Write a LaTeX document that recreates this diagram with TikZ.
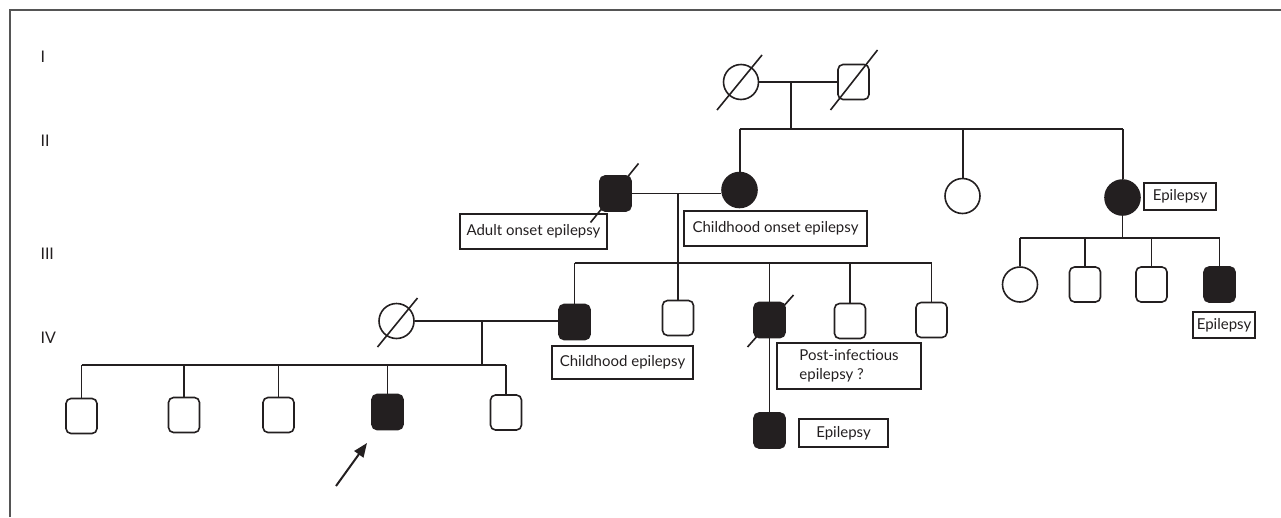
\documentclass[tikz,border=0pt]{standalone}
\usepackage{fontspec}
\setmainfont{Lato}
\usetikzlibrary{arrows.meta}
\definecolor{ink}{RGB}{35,31,32}
\definecolor{framec}{RGB}{85,85,85}
\tikzset{
  ind/.style={draw=ink, line width=1.6pt, inner sep=0pt},
  male/.style={ind, rectangle, rounded corners=5pt, minimum width=31pt, minimum height=35pt},
  female/.style={ind, circle, minimum size=35pt},
  aff/.style={fill=ink},
  link/.style={draw=ink, line width=1.3pt},
  sib/.style={draw=ink, line width=2pt},
  lbl/.style={draw=ink, line width=1.2pt, rectangle, inner sep=0pt, font=\fontsize{15}{18}\selectfont, text=ink},
  gen/.style={anchor=west, font=\fontsize{16}{18}\selectfont, text=ink},
  dead/.style={draw=ink, line width=1.6pt},
}
\begin{document}
\begin{tikzpicture}[x=1pt,y=-1pt]
\useasboundingbox (0,0) rectangle (1281,517);
\draw[framec, line width=1.5pt] (10,517) -- (10,10) -- (1281,10);

% generation labels
\node[gen] (gI) at (37,57) {I};
\node[gen] (gII) at (37,141) {II};
\node[gen] (gIII) at (37,254) {III};
\node[gen] (gIV) at (37,338) {IV};

% Generation I
\node[female] (I1) at (741,82) {};
\node[male] (I2) at (853.5,82) {};
\draw[dead, shift={(I1.center)}] (-24,28) -- (21,-27);
\draw[dead, shift={(I2.center)}] (-23,28) -- (24,-32);
\draw[link] (I1.east) -- (I2.west);
\coordinate (m1) at (791,82);
\coordinate (s1) at (791,129);
\draw[link] (m1) -- (s1);

% Generation II
\node[male, aff] (II1) at (615.5,193.5) {};
\draw[dead, shift={(II1.center)}] (-25,29) -- (23,-30);
\node[female, aff] (II2) at (739.5,190) {};
\node[female] (II3) at (962.5,196) {};
\node[female, aff] (II4) at (1122.5,197.5) {};
\coordinate (s1a) at (739.5,129);
\coordinate (s1b) at (1122.5,129);
\draw[sib] (s1a) -- (s1b);
\draw[sib] (s1a) -- (II2.north);
\draw[sib] (II3.north |- s1a) -- (II3.north);
\draw[sib] (s1b) -- (II4.north);
\draw[link] (II1.east) -- (II1.east -| II2.west);
\coordinate (m2) at (678,193.5);
\coordinate (s2) at (678,263);

\node[lbl, minimum width=147pt, minimum height=35pt] (L1) at (533.5,231.5) {Adult onset epilepsy};
\node[lbl, minimum width=183pt, minimum height=35pt] (L2) at (775.5,228.5) {Childhood onset epilepsy};
\node[lbl, minimum width=72pt, minimum height=27pt] (L3) at (1180,196.5) {Epilepsy};

% Generation III (right family)
\node[female] (III6) at (1020,284.5) {};
\node[male] (III7) at (1085,284.5) {};
\node[male] (III8) at (1151.5,284.5) {};
\node[male, aff] (III9) at (1219.5,284.5) {};
\coordinate (s3a) at (1020,238);
\coordinate (s3b) at (1219.5,238);
\draw[link] (II4.south) -- (II4.south |- s3a);
\draw[link] (s3a) -- (s3b);
\draw[link] (s3a) -- (III6.north);
\draw[link] (III7.north |- s3a) -- (III7.north);
\draw[link] (III8.north |- s3a) -- (III8.north);
\draw[link] (s3b) -- (III9.north);
\node[lbl, minimum width=62pt, minimum height=26pt] (L4) at (1224,325) {Epilepsy};

% Generation III (central family)
\node[male, aff] (III1) at (574.5,322) {};
\node[male] (III2) at (678,318) {};
\node[male, aff] (III3) at (769.5,320) {};
\draw[dead, shift={(III3.center)}] (-22,27) -- (24,-25);
\node[male] (III4) at (850,321) {};
\node[male] (III5) at (931.5,320) {};
\coordinate (s2a) at (574.5,263);
\coordinate (s2b) at (931.5,263);
\draw[link] (m2) -- (s2);
\draw[link] (s2a) -- (s2b);
\draw[link] (s2a) -- (III1.north);
\draw[link] (s2) -- (III2.north);
\draw[link] (III3.north |- s2a) -- (III3.north);
\draw[link] (III4.north |- s2a) -- (III4.north);
\draw[link] (s2b) -- (III5.north);

\node[female] (IIIs) at (396.5,321) {};
\draw[dead, shift={(IIIs.center)}] (-19,26) -- (21,-23);
\draw[link] (IIIs.east) -- (IIIs.east -| III1.west);

\node[lbl, minimum width=141pt, minimum height=33pt] (L5) at (622.5,362.5) {Childhood epilepsy};
\node[lbl, minimum width=144pt, minimum height=46pt, align=left, font=\fontsize{15}{19}\selectfont] (L6) at (849,366) {Post-infectious\\epilepsy ?};

% Generation IV
\node[male] (IV1) at (81.5,416) {};
\node[male] (IV2) at (184,415) {};
\node[male] (IV3) at (278.5,415) {};
\node[male, aff] (IV4) at (387.5,412) {};
\node[male] (IV5) at (506,412.5) {};
\coordinate (m3) at (482,322);
\coordinate (s4) at (482,365);
\coordinate (s4a) at (81.5,365);
\coordinate (s4b) at (506,365);
\draw[link] (m3) -- (s4);
\draw[link] (s4a) -- (s4b);
\draw[link] (s4a) -- (IV1.north);
\draw[link] (IV2.north |- s4a) -- (IV2.north);
\draw[link] (IV3.north |- s4a) -- (IV3.north);
\draw[link] (IV4.north |- s4a) -- (IV4.north);
\draw[link] (s4b) -- (IV5.north);

\node[male, aff] (IV6) at (769.5,430.5) {};
\draw[link] (III3.south) -- (IV6.north);
\node[lbl, minimum width=89pt, minimum height=28pt] (L7) at (843.5,433) {Epilepsy};

% proband arrow
\coordinate (a0) at (336,486);
\coordinate (a1) at (367,443);
\draw[draw=ink, line width=2pt, -{Triangle[length=14pt,width=11pt]}] (a0) -- (a1);
\end{tikzpicture}
\end{document}
